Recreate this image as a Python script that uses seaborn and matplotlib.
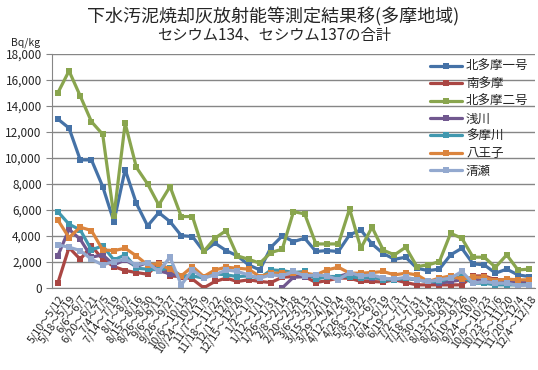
import numpy as np
import pandas as pd
import matplotlib
matplotlib.use("Agg")
import matplotlib.pyplot as plt
from matplotlib.ticker import FuncFormatter, MultipleLocator
import seaborn as sns

# sampling periods (x axis)
periods = [
    "5/10～5/12", "5/18～5/19", "6/6～6/7", "6/20～6/21", "7/4～7/5",
    "7/14～7/19", "8/1～8/2", "8/15～8/16", "8/26～8/30", "9/6～9/13",
    "9/26～9/27", "10/6～10/13", "10/24～10/25", "11/7～11/9", "11/18～11/22",
    "12/1～12/6", "12/15～12/20", "1/2～1/5", "1/12～1/17", "1/26～1/31",
    "2/8～2/14", "2/20～2/28", "3/6～3/13", "3/15～3/27", "3/29～4/10",
    "4/12～4/24", "4/26～5/8", "5/8～5/22", "5/21～6/5", "6/4～6/19",
    "6/19～7/3", "7/2～7/17", "7/18～7/31", "7/30～8/14", "8/13～8/28",
    "8/27～9/11", "9/10～9/26", "9/24～10/9", "10/9～10/23", "10/23～11/6",
    "11/5～11/20", "11/20～12/4", "12/4～12/18",
]

kitatama1 = [13000, 12300, 9850, 9850, 7800, 5100, 9100, 6500, 4770, 5790,
             5100, 4020, 3950, 2800, 3440, 2870, 2460, 1770, 1380, 3130,
             4000, 3560, 3820, 2800, 2870, 2800, 4080, 4460, 3380, 2640,
             2200, 2360, 1510, 1330, 1440, 2540, 3050, 1850, 1770, 1130,
             1440, 1000, 870]
minamitama = [360, 3100, 2200, 3230, 2200, 1640, 1330, 1180, 1050, 1900,
              920, 870, 670, 0, 490, 750, 490, 620, 490, 410,
              820, 870, 870, 410, 560, 750, 750, 490, 490, 450,
              620, 410, 230, 230, 230, 230, 230, 920, 920, 620,
              620, 490, 490]
kitatama2 = [15000, 16700, 14770, 12790, 11820, 5500, 12670, 9280, 8000, 6380,
             7800, 5490, 5490, 2800, 3820, 4410, 2460, 2200, 1900, 2720,
             2980, 5870, 5690, 3380, 3380, 3380, 6080, 3050, 4670, 2900,
             2540, 3130, 1640, 1770, 2020, 4200, 3820, 2360, 2360, 1590,
             2540, 1380, 1440]
asakawa = [2460, 4510, 3740, 2360, 2540, 1770, 2150, 1640, 1950, 1300,
           1100, 900, 900, np.nan, np.nan, np.nan, np.nan, np.nan, np.nan, np.nan,
           0, 820, 870, 870, 870, 870, 1130, 750, 750, 750,
           620, 750, 620, 490, 360, 490, 620, 750, 500, 500,
           500, 490, 490]
tamagawa = [5870, 4900, 4460, 2920, 3230, 2150, 2540, 1510, 1440, 1380,
            1510, 920, 920, 750, 1080, 1000, 870, 920, 750, 1380,
            1330, 1180, 1260, 670, 870, 870, 870, 750, 870, 620,
            620, 750, 620, 490, 490, 750, 870, 360, 360, 230,
            230, 230, 230]
hachioji = [5230, 3870, 4670, 4410, 2920, 2870, 3050, 2460, 1770, 1850,
            1440, 920, 1640, 870, 1380, 1590, 1510, 1440, 870, 1130,
            1130, 1130, 1130, 1000, 1380, 1590, 1130, 1130, 1180, 1260,
            1000, 1130, 1000, 490, 750, 920, 670, 820, 820, 560,
            670, 620, 620]
kiyose = [3310, 3130, 2870, 2200, 1770, 2020, 2200, 1770, 1950, 1260,
          2360, 230, 1380, 750, 1000, 1380, 1260, 1000, 750, 1000,
          920, 1260, 920, 1000, 920, 620, 1180, 920, 1000, 750,
          670, 820, 620, 490, 620, 750, 1260, 360, 490, 360,
          360, 180, 230]

sites = ["北多摩一号", "南多摩", "北多摩二号", "浅川", "多摩川", "八王子", "清瀬"]
series = [kitatama1, minamitama, kitatama2, asakawa, tamagawa, hachioji, kiyose]
colors = ["#4572A7", "#AA4643", "#89A54E", "#71588F", "#4198AF", "#DB843D", "#93A9CF"]

rows = []
for name, vals in zip(sites, series):
    seg = 0
    for i, v in enumerate(vals):
        if np.isnan(v):
            seg += 1
            continue
        rows.append({"idx": i, "value": v, "site": name, "unit": f"{name}_{seg}"})
df = pd.DataFrame(rows)

sns.set_style("white")
plt.rcParams["font.family"] = ["Noto Sans CJK JP", "DejaVu Sans"]

fig = plt.figure(figsize=(5.38, 3.70), dpi=100)
ax = fig.add_axes([0.097, 0.222, 0.897, 0.632])

sns.lineplot(data=df, x="idx", y="value", hue="site", units="unit",
             estimator=None, hue_order=sites, palette=colors,
             marker="s", markersize=4.5, markeredgewidth=0,
             linewidth=2.3, ax=ax, legend=False)

ax.set_xlim(-0.5, len(periods) - 0.5)
ax.set_ylim(0, 18000)
ax.yaxis.set_major_locator(MultipleLocator(2000))
ax.yaxis.set_major_formatter(FuncFormatter(lambda v, p: f"{int(v):,}"))
ax.grid(axis="y", color="#868686", linewidth=1)
ax.set_axisbelow(True)
for s in ["top", "right"]:
    ax.spines[s].set_visible(False)
for s in ["left", "bottom"]:
    ax.spines[s].set_color("#868686")

ax.set_xticks(range(len(periods)))
ax.set_xticklabels(periods, rotation=55, ha="right", rotation_mode="anchor", fontsize=7.8)
ax.set_xticks(np.arange(-0.5, len(periods)), minor=True)
ax.tick_params(axis="x", which="major", length=0, pad=4)
ax.tick_params(axis="x", which="minor", length=4, color="#868686", direction="out")
ax.tick_params(axis="y", length=4, color="#868686", labelsize=8.5, direction="out", left=True)
ax.set_xlabel("")
ax.set_ylabel("")

handles = [plt.Line2D([], [], color=c, marker="s", markersize=4.5, markeredgewidth=0, linewidth=2.3)
           for c in colors]
ax.legend(handles, sites, loc="upper right", bbox_to_anchor=(1.0, 1.0), frameon=False,
          fontsize=9, handlelength=2.6, labelspacing=0.35, borderaxespad=0.1, handletextpad=0.3)

fig.text(0.508, 0.955, "下水汚泥焼却灰放射能等測定結果移(多摩地域)", ha="center", va="center", fontsize=13)
fig.text(0.51, 0.905, "セシウム134、セシウム137の合計", ha="center", va="center", fontsize=11)
fig.text(0.048, 0.884, "Bq/kg", ha="center", va="center", fontsize=7.5)

fig.savefig("out.png", dpi=100)
